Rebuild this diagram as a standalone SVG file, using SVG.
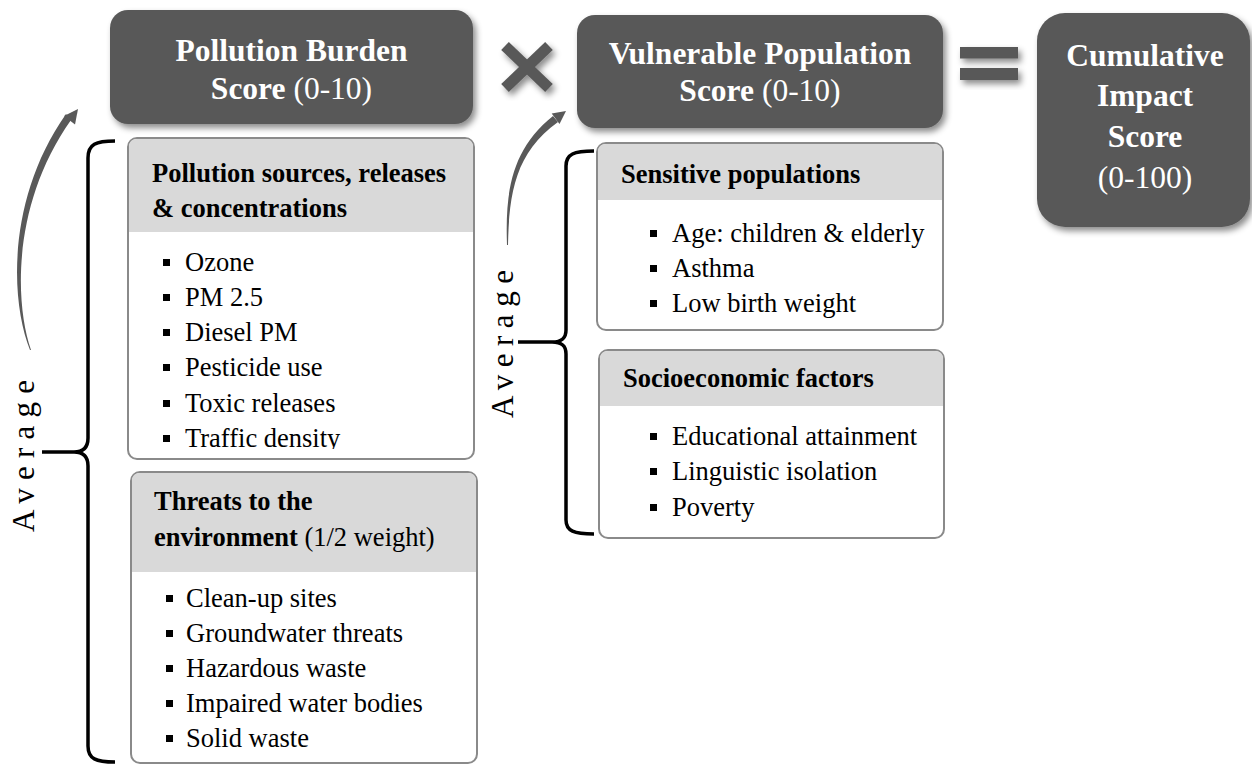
<svg xmlns="http://www.w3.org/2000/svg" width="1252" height="764" viewBox="0 0 1252 764">
<defs>
<style>
.dark{fill:#595959;}
.ttl{font-family:"Liberation Serif","Times New Roman",serif;font-size:31.5px;fill:#fff;text-anchor:middle;font-weight:bold;}
.reg{font-weight:normal;}
.box{fill:#fff;stroke:#8a8a8a;stroke-width:2;}
.hdr{fill:#d9d9d9;}
.ht{font-family:"Liberation Serif","Times New Roman",serif;font-size:26.5px;font-weight:bold;fill:#000;}
.bt{font-family:"Liberation Serif","Times New Roman",serif;font-size:26.5px;fill:#000;}
.blt{fill:#000;}
.brace{fill:none;stroke:#000;stroke-width:3.5;}
.avg{font-family:"Liberation Serif","Times New Roman",serif;font-size:31px;fill:#000;text-anchor:middle;}
.arr{fill:#595959;}
</style>
<filter id="sh" x="-20%" y="-20%" width="150%" height="150%">
<feDropShadow dx="3" dy="4" stdDeviation="3" flood-color="#000" flood-opacity="0.45"/>
</filter>
<clipPath id="c1"><rect x="128" y="232" width="346" height="217"/></clipPath>
</defs>

<g id="pollution-burden">
<rect class="dark" x="110" y="10" width="363" height="114" rx="18" filter="url(#sh)"/>
<text class="ttl" x="291.5" y="61">Pollution Burden</text>
<text class="ttl" x="291.5" y="99">Score<tspan class="reg"> (0-10)</tspan></text>
</g>

<g id="times-sign" filter="url(#sh)">
<line x1="505" y1="46" x2="549" y2="88" stroke="#595959" stroke-width="11"/>
<line x1="549" y1="46" x2="505" y2="88" stroke="#595959" stroke-width="11"/>
</g>

<g id="vulnerable-population">
<rect class="dark" x="577" y="15" width="366" height="113" rx="18" filter="url(#sh)"/>
<text class="ttl" x="760" y="64">Vulnerable Population</text>
<text class="ttl" x="760" y="101">Score<tspan class="reg"> (0-10)</tspan></text>
</g>

<g id="equals-sign" filter="url(#sh)">
<rect class="dark" x="960" y="47" width="58" height="11.5"/>
<rect class="dark" x="960" y="68" width="58" height="12"/>
</g>

<g id="cumulative-impact">
<rect class="dark" x="1037" y="13" width="213" height="214" rx="28" filter="url(#sh)"/>
<text class="ttl" x="1145" y="66">Cumulative</text>
<text class="ttl" x="1145" y="106">Impact</text>
<text class="ttl" x="1145" y="147">Score</text>
<text class="ttl reg" x="1145" y="188">(0-100)</text>
</g>

<g id="pollution-sources">
<rect class="box" x="128" y="138" width="346" height="321" rx="9"/>
<path class="hdr" d="M137,139 H465 Q473,139 473,147 V232 H129 V147 Q129,139 137,139 Z"/>
<text class="ht" x="152" y="182">Pollution sources, releases</text>
<text class="ht" x="152" y="217">&amp; concentrations</text>
<g clip-path="url(#c1)">
<rect class="blt" x="163" y="259" width="7" height="7"/><text class="bt" x="185" y="271">Ozone</text>
<rect class="blt" x="163" y="294" width="7" height="7"/><text class="bt" x="185" y="306">PM 2.5</text>
<rect class="blt" x="163" y="329" width="7" height="7"/><text class="bt" x="185" y="341">Diesel PM</text>
<rect class="blt" x="163" y="364" width="7" height="7"/><text class="bt" x="185" y="376">Pesticide use</text>
<rect class="blt" x="163" y="400" width="7" height="7"/><text class="bt" x="185" y="412">Toxic releases</text>
<rect class="blt" x="163" y="435" width="7" height="7"/><text class="bt" x="185" y="447">Traffic density</text>
</g>
</g>

<g id="threats-environment">
<rect class="box" x="131" y="472" width="346" height="291" rx="9"/>
<path class="hdr" d="M140,473 H468 Q476,473 476,481 V572 H132 V481 Q132,473 140,473 Z"/>
<text class="ht" x="154" y="510">Threats to the</text>
<text class="ht" x="154" y="546">environment<tspan class="reg"> (1/2 weight)</tspan></text>
<rect class="blt" x="166" y="595" width="7" height="7"/><text class="bt" x="186" y="607">Clean-up sites</text>
<rect class="blt" x="166" y="630" width="7" height="7"/><text class="bt" x="186" y="642">Groundwater threats</text>
<rect class="blt" x="166" y="665" width="7" height="7"/><text class="bt" x="186" y="677">Hazardous waste</text>
<rect class="blt" x="166" y="700" width="7" height="7"/><text class="bt" x="186" y="712">Impaired water bodies</text>
<rect class="blt" x="166" y="735" width="7" height="7"/><text class="bt" x="186" y="747">Solid waste</text>
</g>

<g id="sensitive-populations">
<rect class="box" x="597" y="143" width="346" height="187" rx="9"/>
<path class="hdr" d="M606,144 H934 Q942,144 942,152 V200 H598 V152 Q598,144 606,144 Z"/>
<text class="ht" x="621" y="183">Sensitive populations</text>
<rect class="blt" x="650" y="230" width="7" height="7"/><text class="bt" x="672" y="242">Age: children &amp; elderly</text>
<rect class="blt" x="650" y="265" width="7" height="7"/><text class="bt" x="672" y="277">Asthma</text>
<rect class="blt" x="650" y="300" width="7" height="7"/><text class="bt" x="672" y="312">Low birth weight</text>
</g>

<g id="socioeconomic-factors">
<rect class="box" x="599" y="350" width="345" height="188" rx="9"/>
<path class="hdr" d="M608,351 H935 Q943,351 943,359 V406 H600 V359 Q600,351 608,351 Z"/>
<text class="ht" x="623" y="387">Socioeconomic factors</text>
<rect class="blt" x="650" y="433" width="7" height="7"/><text class="bt" x="672" y="445">Educational attainment</text>
<rect class="blt" x="650" y="468" width="7" height="7"/><text class="bt" x="672" y="480">Linguistic isolation</text>
<rect class="blt" x="650" y="504" width="7" height="7"/><text class="bt" x="672" y="516">Poverty</text>
</g>

<g id="connectors">
<path class="brace" d="M115,141 C96,141 88,144 88,158 L88,438 C88,447 84,452 74,452 L42,452 M74,452 C84,452 88,457 88,466 L88,746 C88,759 96,762 115,762"/>
<path class="brace" d="M594,151 C574,151 566,154 566,166 L566,330 C566,338 562,342 552,342 L518,342 M552,342 C562,342 566,346 566,354 L566,520 C566,531 574,534 594,534"/>
<path class="arr" d="M30,350 C10,300 7,198 66,114 L71,120 C13,202 14,300 31,350 Z"/>
<polygon class="arr" points="78,109 75,124.5 64,116"/>
<path class="arr" d="M507,245 C505,190 512,149 553,116 L558,122 C516,152 509,192 508,245 Z"/>
<polygon class="arr" points="566,111 559.5,124 551.7,113.6"/>
</g>

<g id="average-labels">
<text class="avg" transform="translate(34,456) rotate(-90)" textLength="152" lengthAdjust="spacing">Average</text>
<text class="avg" transform="translate(513,344) rotate(-90)" textLength="148" lengthAdjust="spacing">Average</text>
</g>
</svg>
